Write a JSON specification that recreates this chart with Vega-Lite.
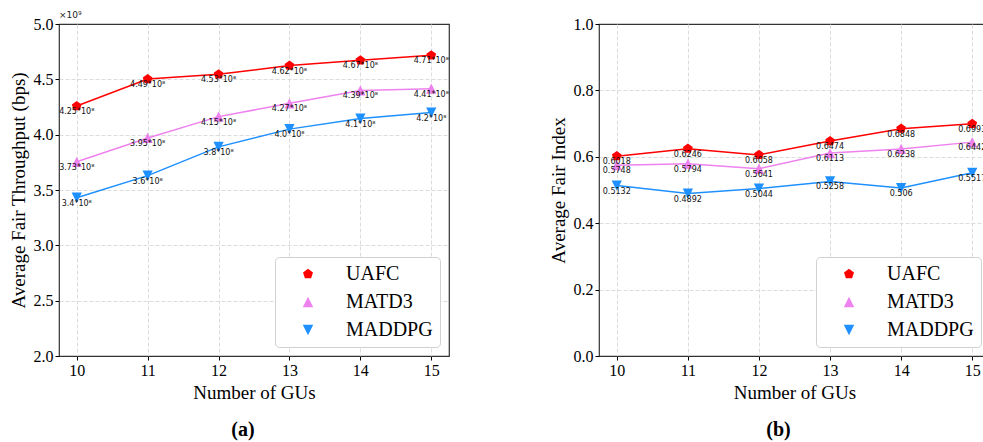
{
  "$schema": "https://vega.github.io/schema/vega-lite/v6.json",
  "background": "white",
  "padding": {"left": 8, "top": 10, "right": 0, "bottom": 0},
  "datasets": {
    "throughput": [
      {"gus": 10, "series": "UAFC", "value": 4.259, "label": "4.25*10⁸"},
      {"gus": 11, "series": "UAFC", "value": 4.503, "label": "4.49*10⁸"},
      {"gus": 12, "series": "UAFC", "value": 4.545, "label": "4.53*10⁸"},
      {"gus": 13, "series": "UAFC", "value": 4.625, "label": "4.62*10⁸"},
      {"gus": 14, "series": "UAFC", "value": 4.672, "label": "4.67*10⁸"},
      {"gus": 15, "series": "UAFC", "value": 4.717, "label": "4.71*10⁸"},
      {"gus": 10, "series": "MATD3", "value": 3.755, "label": "3.73*10⁸"},
      {"gus": 11, "series": "MATD3", "value": 3.97, "label": "3.95*10⁸"},
      {"gus": 12, "series": "MATD3", "value": 4.163, "label": "4.15*10⁸"},
      {"gus": 13, "series": "MATD3", "value": 4.283, "label": "4.27*10⁸"},
      {"gus": 14, "series": "MATD3", "value": 4.4, "label": "4.39*10⁸"},
      {"gus": 15, "series": "MATD3", "value": 4.415, "label": "4.41*10⁸"},
      {"gus": 10, "series": "MADDPG", "value": 3.43, "label": "3.4*10⁸"},
      {"gus": 11, "series": "MADDPG", "value": 3.63, "label": "3.6*10⁸"},
      {"gus": 12, "series": "MADDPG", "value": 3.89, "label": "3.8*10⁸"},
      {"gus": 13, "series": "MADDPG", "value": 4.05, "label": "4.0*10⁸"},
      {"gus": 14, "series": "MADDPG", "value": 4.145, "label": "4.1*10⁸"},
      {"gus": 15, "series": "MADDPG", "value": 4.2, "label": "4.2*10⁸"}
    ],
    "fairness": [
      {"gus": 10, "series": "UAFC", "value": 0.6018, "label": "0.6018"},
      {"gus": 11, "series": "UAFC", "value": 0.6246, "label": "0.6246"},
      {"gus": 12, "series": "UAFC", "value": 0.6058, "label": "0.6058"},
      {"gus": 13, "series": "UAFC", "value": 0.6474, "label": "0.6474"},
      {"gus": 14, "series": "UAFC", "value": 0.6848, "label": "0.6848"},
      {"gus": 15, "series": "UAFC", "value": 0.6993, "label": "0.6993"},
      {"gus": 10, "series": "MATD3", "value": 0.5748, "label": "0.5748"},
      {"gus": 11, "series": "MATD3", "value": 0.5794, "label": "0.5794"},
      {"gus": 12, "series": "MATD3", "value": 0.5641, "label": "0.5641"},
      {"gus": 13, "series": "MATD3", "value": 0.6113, "label": "0.6113"},
      {"gus": 14, "series": "MATD3", "value": 0.6238, "label": "0.6238"},
      {"gus": 15, "series": "MATD3", "value": 0.6442, "label": "0.6442"},
      {"gus": 10, "series": "MADDPG", "value": 0.5132, "label": "0.5132"},
      {"gus": 11, "series": "MADDPG", "value": 0.4892, "label": "0.4892"},
      {"gus": 12, "series": "MADDPG", "value": 0.5044, "label": "0.5044"},
      {"gus": 13, "series": "MADDPG", "value": 0.5258, "label": "0.5258"},
      {"gus": 14, "series": "MADDPG", "value": 0.506, "label": "0.506"},
      {"gus": 15, "series": "MADDPG", "value": 0.5517, "label": "0.5517"}
    ]
  },
  "config": {
    "font": "Liberation Serif",
    "view": {"stroke": "#333", "strokeWidth": 1.2},
    "axis": {
      "labelFont": "Liberation Serif", "labelFontSize": 16, "labelColor": "#000",
      "titleFont": "Liberation Serif", "titleFontSize": 19, "titleFontWeight": "normal", "titleColor": "#000",
      "grid": true, "gridColor": "#dcdcdc", "gridDash": [4, 2], "gridWidth": 1,
      "tickColor": "#000", "tickSize": 4, "domain": false, "labelPadding": 2, "titlePadding": 5
    },
    "legend": {"title": null, "orient": "bottom-right", "offset": 9, "fillColor": "white", "strokeColor": "#d0d0d0", "cornerRadius": 4, "padding": 7, "labelFont": "Liberation Serif", "labelFontSize": 20, "labelColor": "#000", "symbolOffset": 16, "labelOffset": 28, "rowPadding": 8, "symbolSize": 110, "symbolStrokeWidth": 0}
  },
  "spacing": 98,
  "resolve": {"scale": {"color": "independent", "shape": "independent", "x": "independent", "y": "independent"}},
  "hconcat": [
    {
      "width": 390, "height": 332,
      "title": {"text": "(a)", "orient": "bottom", "font": "Liberation Serif", "fontSize": 20, "fontWeight": "bold", "color": "#000", "offset": 18, "anchor": "middle", "dx": -11},
      "layer": [
        {
          "data": {"name": "throughput"},
          "mark": {"type": "line", "strokeWidth": 1.5},
          "encoding": {
            "x": {"field": "gus", "type": "quantitative", "scale": {"domain": [9.75, 15.25], "nice": false, "zero": false}, "axis": {"values": [10, 11, 12, 13, 14, 15], "format": "d", "title": "Number of GUs"}},
            "y": {"field": "value", "type": "quantitative", "scale": {"domain": [2, 5], "nice": false, "zero": false}, "axis": {"values": [2, 2.5, 3, 3.5, 4, 4.5, 5], "format": ".1f", "title": "Average Fair Throughput (bps)", "gridOpacity": {"condition": {"test": "datum.value <= 2 || datum.value >= 5", "value": 0}, "value": 1}}},
            "color": {"field": "series", "type": "nominal", "sort": ["UAFC", "MATD3", "MADDPG"], "scale": {"domain": ["UAFC", "MATD3", "MADDPG"], "range": ["#ff0000", "#ee82ee", "#1e90ff"]}}
          }
        },
        {
          "data": {"name": "throughput"},
          "mark": {"type": "point", "filled": true, "opacity": 1},
          "encoding": {
            "x": {"field": "gus", "type": "quantitative"},
            "y": {"field": "value", "type": "quantitative"},
            "color": {"field": "series", "type": "nominal", "sort": ["UAFC", "MATD3", "MADDPG"]},
            "shape": {"field": "series", "type": "nominal", "sort": ["UAFC", "MATD3", "MADDPG"], "scale": {"domain": ["UAFC", "MATD3", "MADDPG"], "range": ["M0,-1L0.951,-0.309L0.588,0.809L-0.588,0.809L-0.951,-0.309Z", "M0,-1L1,1L-1,1Z", "M0,1L1,-1L-1,-1Z"]}},
            "size": {"value": 105}
          }
        },
        {
          "data": {"name": "throughput"},
          "mark": {"type": "text", "font": "DejaVu Sans", "fontSize": 8, "dy": 6, "baseline": "middle", "align": "center", "color": "#111"},
          "encoding": {
            "x": {"field": "gus", "type": "quantitative"},
            "y": {"field": "value", "type": "quantitative"},
            "text": {"field": "label"}
          }
        },
        {
          "data": {"values": [{"note": "×10⁹"}]},
          "mark": {"type": "text", "font": "DejaVu Sans", "fontSize": 9, "dy": -4, "baseline": "bottom", "align": "left", "color": "#222"},
          "encoding": {
            "x": {"datum": 9.75, "type": "quantitative"},
            "y": {"datum": 5, "type": "quantitative"},
            "text": {"field": "note"}
          }
        }
      ]
    },
    {
      "width": 391, "height": 332,
      "title": {"text": "(b)", "orient": "bottom", "font": "Liberation Serif", "fontSize": 20, "fontWeight": "bold", "color": "#000", "offset": 18, "anchor": "middle", "dx": -16},
      "layer": [
        {
          "data": {"name": "fairness"},
          "mark": {"type": "line", "strokeWidth": 1.5},
          "encoding": {
            "x": {"field": "gus", "type": "quantitative", "scale": {"domain": [9.75, 15.25], "nice": false, "zero": false}, "axis": {"values": [10, 11, 12, 13, 14, 15], "format": "d", "title": "Number of GUs"}},
            "y": {"field": "value", "type": "quantitative", "scale": {"domain": [0, 1], "nice": false, "zero": false}, "axis": {"values": [0, 0.2, 0.4, 0.6, 0.8, 1.0], "format": ".1f", "title": "Average Fair Index", "gridOpacity": {"condition": {"test": "datum.value <= 0 || datum.value >= 1", "value": 0}, "value": 1}}},
            "color": {"field": "series", "type": "nominal", "sort": ["UAFC", "MATD3", "MADDPG"], "scale": {"domain": ["UAFC", "MATD3", "MADDPG"], "range": ["#ff0000", "#ee82ee", "#1e90ff"]}}
          }
        },
        {
          "data": {"name": "fairness"},
          "mark": {"type": "point", "filled": true, "opacity": 1},
          "encoding": {
            "x": {"field": "gus", "type": "quantitative"},
            "y": {"field": "value", "type": "quantitative"},
            "color": {"field": "series", "type": "nominal", "sort": ["UAFC", "MATD3", "MADDPG"]},
            "shape": {"field": "series", "type": "nominal", "sort": ["UAFC", "MATD3", "MADDPG"], "scale": {"domain": ["UAFC", "MATD3", "MADDPG"], "range": ["M0,-1L0.951,-0.309L0.588,0.809L-0.588,0.809L-0.951,-0.309Z", "M0,-1L1,1L-1,1Z", "M0,1L1,-1L-1,-1Z"]}},
            "size": {"value": 105}
          }
        },
        {
          "data": {"name": "fairness"},
          "mark": {"type": "text", "font": "DejaVu Sans", "fontSize": 8, "dy": 6, "baseline": "middle", "align": "center", "color": "#111"},
          "encoding": {
            "x": {"field": "gus", "type": "quantitative"},
            "y": {"field": "value", "type": "quantitative"},
            "text": {"field": "label"}
          }
        }
      ]
    }
  ]
}
